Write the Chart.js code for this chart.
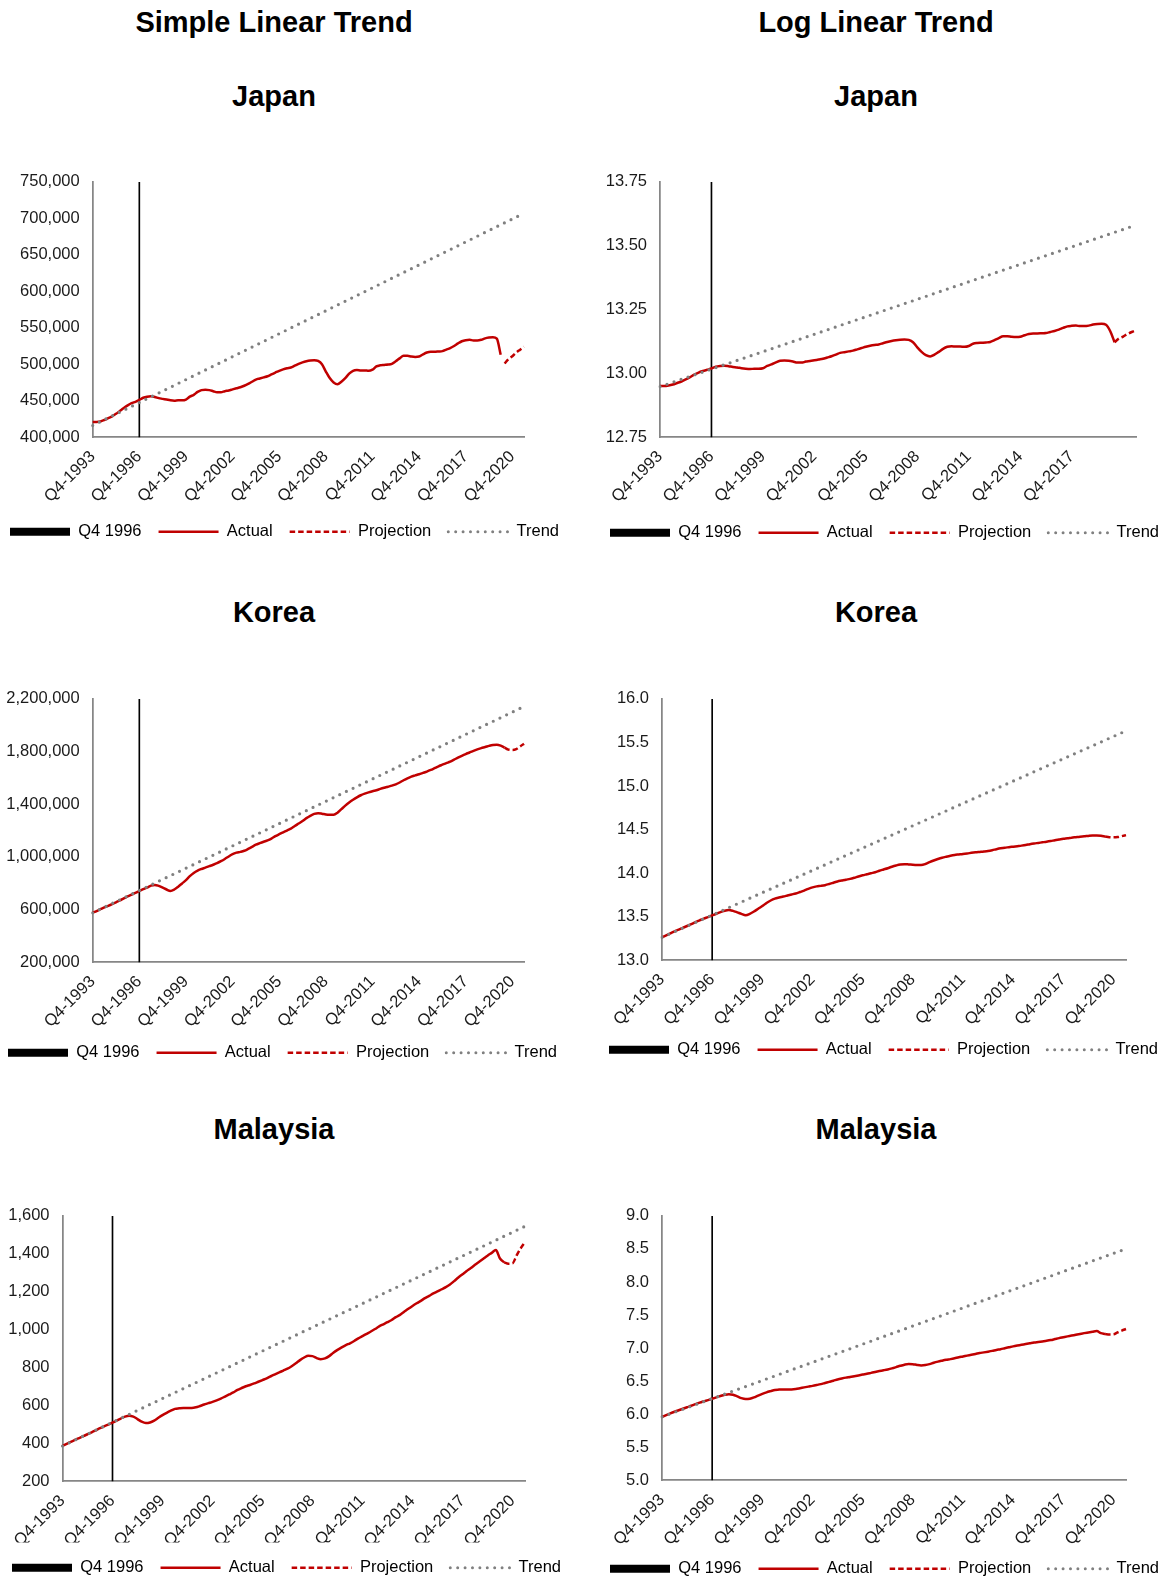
<!DOCTYPE html>
<html lang="en">
<head>
<meta charset="UTF-8">
<title>Simple vs Log Linear Trend</title>
<script src="https://cdn.jsdelivr.net/npm/chart.js"></script>
<style>
    html, body {
        margin: 0;
        padding: 0;
        background: #fff;
        width: 1167px;
        height: 1580px;
        overflow: hidden;
        position: relative;
        font-family: "Liberation Sans", Arial, sans-serif;
    }
    .head {
        position: absolute;
        font-weight: bold;
        font-size: 29px;
        line-height: 34.8px;
        text-align: center;
        color: #000;
        width: 548px;
    }
    canvas { position: absolute; }
</style>
</head>
<body>

<div class="head" style="left:0;top:4.8px">Simple Linear Trend</div>
<div class="head" style="left:602px;top:4.8px">Log Linear Trend</div>
<div class="head" style="left:0;top:79.3px">Japan</div>
<div class="head" style="left:602px;top:79.3px">Japan</div>
<div class="head" style="left:0;top:595.3px">Korea</div>
<div class="head" style="left:602px;top:595.3px">Korea</div>
<div class="head" style="left:0;top:1112.3px">Malaysia</div>
<div class="head" style="left:602px;top:1112.3px">Malaysia</div>

<script>
    // quarterly categories, Q4-1993 .. Q3-2021
    const quarters = [];
    for (let y = 1993, q = 4; quarters.length < 112;) {
        quarters.push('Q' + q + '-' + y);
        q++;
        if (q > 4) { q = 1; y++; }
    }
    const trendAt = ['Q4-1993', 'Q3-2021'];

    // Japan, levels
    const japanActual = [
        420700, 420800, 421500, 423500, 426000, 428500, 432000, 436000, 440000, 443500,
        446500, 448500, 451000, 454000, 455500, 456000, 455000, 453500, 452500, 451500,
        450500, 450000, 450500, 450500, 451500, 455500, 458000, 462000, 464500, 465000,
        464500, 463000, 461500, 461500, 463000, 464000, 465500, 467000, 468500, 470500,
        473000, 476000, 479000, 480500, 482000, 483500, 486000, 488500, 491000, 493000,
        494500, 495500, 498000, 500500, 502500, 504000, 505000, 505500, 504500, 500000,
        490000, 481000, 475000, 472500, 476000, 481000, 487000, 491000, 492000, 491500,
        491500, 491000, 492500, 497000, 498500, 499000, 499500, 500500, 504000, 508000,
        511500, 511500, 510500, 510000, 510500, 513500, 516000, 517000, 517000, 517500,
        518000, 520000, 522000, 525000, 528500, 531500, 533000, 533500, 532500, 532500,
        533500, 535500, 536500, 537000, 535000, 513000
    ];
    const japanProjStart = 'Q2-2020';
    const japanProj = [501000, 507000, 511000, 516000, 520000, 524000];
    const japanTrend = [416000, 707000];

    // Japan, logs
    const japanLogActual = [
        12.950, 12.950, 12.952, 12.956, 12.962, 12.968, 12.976, 12.985, 12.995, 13.003,
        13.009, 13.014, 13.019, 13.026, 13.029, 13.030, 13.028, 13.025, 13.023, 13.020,
        13.018, 13.017, 13.018, 13.018, 13.020, 13.029, 13.035, 13.043, 13.049, 13.050,
        13.049, 13.046, 13.042, 13.042, 13.046, 13.048, 13.051, 13.054, 13.057, 13.062,
        13.067, 13.073, 13.080, 13.083, 13.086, 13.089, 13.094, 13.099, 13.104, 13.108,
        13.111, 13.113, 13.118, 13.123, 13.127, 13.130, 13.132, 13.133, 13.131, 13.122,
        13.102, 13.084, 13.071, 13.066, 13.073, 13.084, 13.096, 13.104, 13.106, 13.105,
        13.105, 13.104, 13.107, 13.116, 13.119, 13.120, 13.121, 13.123, 13.130, 13.138,
        13.145, 13.145, 13.143, 13.142, 13.143, 13.149, 13.154, 13.156, 13.156, 13.157,
        13.158, 13.162, 13.166, 13.171, 13.178, 13.184, 13.186, 13.187, 13.185, 13.185,
        13.187, 13.191, 13.193, 13.194, 13.190, 13.165, 13.122
    ];
    const japanLogProjStart = 'Q2-2020';
    const japanLogProj = [13.122, 13.136, 13.144, 13.154, 13.162, 13.169];
    const japanLogTrend = [12.948, 13.581];

    // Korea, levels
    const koreaActual = [
        575000, 588000, 602000, 616000, 628000, 641000, 655000, 669000, 685000, 699000,
        713000, 726000, 740000, 754000, 767000, 781000, 787000, 779000, 766000, 752000,
        741000, 752000, 773000, 798000, 823000, 853000, 878000, 896000, 908000, 918000,
        929000, 940000, 952000, 967000, 984000, 1003000, 1021000, 1032000, 1038000, 1046000,
        1060000, 1076000, 1092000, 1104000, 1115000, 1125000, 1139000, 1157000, 1172000, 1186000,
        1200000, 1214000, 1234000, 1253000, 1272000, 1294000, 1312000, 1326000, 1332000, 1328000,
        1322000, 1320000, 1320000, 1335000, 1362000, 1389000, 1413000, 1434000, 1452000, 1468000,
        1480000, 1490000, 1499000, 1506000, 1516000, 1525000, 1533000, 1541000, 1551000, 1565000,
        1582000, 1597000, 1610000, 1619000, 1628000, 1638000, 1648000, 1660000, 1674000, 1688000,
        1700000, 1712000, 1723000, 1738000, 1754000, 1768000, 1781000, 1793000, 1805000, 1816000,
        1826000, 1834000, 1843000, 1850000, 1852000, 1845000, 1830000
    ];
    const koreaProjStart = 'Q2-2020';
    const koreaProj = [1830000, 1815000, 1812000, 1818000, 1838000, 1860000];
    const koreaTrend = [575000, 2142000];

    // Korea, logs
    const koreaLogActual = [
        13.262, 13.285, 13.308, 13.331, 13.350, 13.371, 13.392, 13.414, 13.437, 13.457,
        13.477, 13.495, 13.514, 13.533, 13.551, 13.568, 13.576, 13.566, 13.549, 13.531,
        13.516, 13.531, 13.558, 13.590, 13.621, 13.657, 13.685, 13.706, 13.719, 13.730,
        13.742, 13.754, 13.766, 13.782, 13.799, 13.819, 13.836, 13.847, 13.853, 13.861,
        13.874, 13.889, 13.904, 13.914, 13.924, 13.933, 13.946, 13.961, 13.974, 13.986,
        13.998, 14.009, 14.026, 14.041, 14.056, 14.073, 14.087, 14.098, 14.102, 14.099,
        14.095, 14.093, 14.093, 14.104, 14.125, 14.144, 14.161, 14.176, 14.188, 14.199,
        14.208, 14.214, 14.220, 14.225, 14.232, 14.238, 14.243, 14.248, 14.254, 14.263,
        14.274, 14.284, 14.292, 14.297, 14.303, 14.309, 14.315, 14.322, 14.331, 14.339,
        14.346, 14.353, 14.360, 14.368, 14.377, 14.385, 14.393, 14.399, 14.406, 14.412,
        14.418, 14.422, 14.427, 14.431, 14.432, 14.428, 14.420
    ];
    const koreaLogProjStart = 'Q2-2020';
    const koreaLogProj = [14.420, 14.412, 14.410, 14.413, 14.424, 14.436];
    const koreaLogTrend = [13.262, 15.633];

    // Malaysia, levels
    const malaysiaActual = [
        386, 397, 408, 418, 428, 438, 448, 458, 469, 480,
        490, 499, 509, 520, 531, 541, 546, 541, 528, 514,
        507, 510, 520, 535, 549, 561, 572, 582, 585, 587,
        587, 587, 590, 597, 605, 612, 619, 627, 636, 647,
        658, 669, 682, 692, 701, 708, 716, 725, 734, 743,
        754, 764, 774, 784, 794, 807, 822, 839, 853, 862,
        860, 850, 844, 848, 860, 878, 893, 906, 918, 928,
        940, 954, 966, 978, 990, 1003, 1017, 1028, 1039, 1051,
        1066, 1078, 1094, 1110, 1125, 1139, 1152, 1166, 1178, 1191,
        1202, 1213, 1224, 1238, 1256, 1275, 1292, 1309, 1325, 1342,
        1358, 1374, 1390, 1405, 1420, 1375, 1355
    ];
    const malaysiaProjStart = 'Q2-2020';
    const malaysiaProj = [1355, 1348, 1350, 1392, 1430, 1462];
    const malaysiaTrend = [386, 1545];

    // Malaysia, logs
    const malaysiaLogActual = [
        5.956, 5.984, 6.011, 6.036, 6.059, 6.082, 6.105, 6.127, 6.151, 6.174,
        6.194, 6.213, 6.233, 6.254, 6.275, 6.293, 6.303, 6.293, 6.269, 6.242,
        6.229, 6.234, 6.254, 6.282, 6.308, 6.330, 6.349, 6.367, 6.372, 6.375,
        6.375, 6.375, 6.380, 6.392, 6.405, 6.417, 6.428, 6.441, 6.455, 6.472,
        6.489, 6.506, 6.525, 6.540, 6.553, 6.562, 6.574, 6.586, 6.599, 6.611,
        6.625, 6.639, 6.652, 6.664, 6.677, 6.693, 6.712, 6.732, 6.749, 6.759,
        6.757, 6.745, 6.738, 6.743, 6.757, 6.778, 6.795, 6.809, 6.822, 6.833,
        6.846, 6.861, 6.873, 6.886, 6.898, 6.911, 6.925, 6.935, 6.946, 6.958,
        6.972, 6.983, 6.998, 7.012, 7.026, 7.038, 7.049, 7.061, 7.072, 7.083,
        7.092, 7.101, 7.110, 7.121, 7.136, 7.151, 7.164, 7.177, 7.189, 7.202,
        7.214, 7.226, 7.237, 7.248, 7.258, 7.226, 7.212
    ];
    const malaysiaLogProjStart = 'Q2-2020';
    const malaysiaLogProj = [7.212, 7.206, 7.208, 7.237, 7.265, 7.288];
    const malaysiaLogTrend = [5.960, 8.502];

    const markerAt = 'Q4-1996';
    const RED = '#C00000';
    const GREY = '#808080';
    const AXIS = '#868686';
    const TEXT = '#1a1a1a';
    const FONT = '"Liberation Sans", Arial, sans-serif';

    Chart.defaults.font.family = FONT;
    Chart.defaults.font.size = 16.5;
    Chart.defaults.color = TEXT;

    const thousands = v => Number(v).toLocaleString('en-US');

    function makeChart(o) {
        const cv = document.createElement('canvas');
        const padTop = 20;
        const legendH = 43.5;
        const xh = o.legendY - 25.25 - o.plot.b;
        const h = Math.round(padTop + (o.plot.b - o.plot.t) + xh + legendH);
        const w = 600;
        cv.width = w;
        cv.height = h;
        cv.style.left = o.cl + 'px';
        cv.style.top = (o.plot.t - padTop) + 'px';
        cv.style.width = w + 'px';
        cv.style.height = h + 'px';
        document.body.appendChild(cv);

        const hide = o.hide || [];
        const start = quarters.indexOf(o.projStart);

        new Chart(cv.getContext('2d'), {
            type: 'line',
            data: {
                labels: quarters,
                datasets: [{
                    label: 'Trend',
                    data: o.trend.map((v, k) => ({x: trendAt[k], y: v})),
                    borderColor: GREY,
                    borderWidth: 3.2,
                    borderDash: [0, 7.4],
                    borderCapStyle: 'round',
                    pointRadius: 0,
                    yAxisID: 'y'
                }, {
                    label: 'Projection',
                    data: o.proj.map((v, k) => ({x: quarters[start + k], y: v})),
                    borderColor: RED,
                    borderWidth: 2.5,
                    borderDash: [5.5, 3],
                    pointRadius: 0,
                    cubicInterpolationMode: 'monotone',
                    yAxisID: 'y'
                }, {
                    label: 'Actual',
                    data: o.actual,
                    borderColor: RED,
                    borderWidth: 2.5,
                    pointRadius: 0,
                    cubicInterpolationMode: 'monotone',
                    yAxisID: 'y'
                }, {
                    type: 'bar',
                    label: 'Q4 1996',
                    data: [{x: markerAt, y: o.y.max}],
                    backgroundColor: '#000',
                    barThickness: 1,
                    yAxisID: 'y'
                }]
            },
            options: {
                responsive: false,
                animation: false,
                devicePixelRatio: 1,
                events: [],
                layout: { padding: { top: padTop, left: 0, right: 0, bottom: 0 } },
                scales: {
                    x: {
                        type: 'category',
                        offset: false,
                        grid: { display: false, drawTicks: false },
                        border: { display: true, color: AXIS, width: 1.75 },
                        ticks: {
                            autoSkip: false,
                            maxRotation: 45,
                            minRotation: 45,
                            padding: 10,
                            color: TEXT,
                            callback: function (v, i) {
                                const lab = this.getLabelForValue(v);
                                return (i % 12 === 0 && !hide.includes(lab)) ? lab : '';
                            }
                        },
                        afterFit: s => { s.height = xh; }
                    },
                    y: {
                        type: 'linear',
                        position: 'left',
                        min: o.y.min,
                        max: o.y.max,
                        grid: { display: false, drawTicks: false },
                        border: { display: true, color: AXIS, width: 1.75 },
                        ticks: {
                            stepSize: o.y.step,
                            padding: 13,
                            color: TEXT,
                            callback: o.y.fmt
                        },
                        afterFit: s => { s.width = o.plot.l - o.cl; }
                    },
                    yR: {
                        type: 'linear',
                        position: 'right',
                        grid: { display: false, drawTicks: false },
                        border: { display: false },
                        ticks: { display: false },
                        afterFit: s => { s.width = o.cl + w - o.plot.r; }
                    }
                },
                plugins: {
                    tooltip: { enabled: false },
                    title: { display: false },
                    legend: {
                        position: 'bottom',
                        align: 'start',
                        labels: {
                            usePointStyle: true,
                            pointStyleWidth: 60,
                            padding: 17,
                            color: TEXT,
                            font: { size: 16.5 },
                            generateLabels: () => [
                                {text: 'Q4 1996', strokeStyle: '#000', fillStyle: '#000', lineWidth: 8,
                                    pointStyle: 'line', rotation: 0, lineCap: 'butt', hidden: false},
                                {text: 'Actual', strokeStyle: RED, fillStyle: RED, lineWidth: 2.5,
                                    pointStyle: 'line', rotation: 0, hidden: false},
                                {text: 'Projection', strokeStyle: RED, fillStyle: RED, lineWidth: 2.5,
                                    lineDash: [5.5, 3], pointStyle: 'line', rotation: 0, hidden: false},
                                {text: 'Trend', strokeStyle: GREY, fillStyle: GREY, lineWidth: 3,
                                    lineDash: [0, 7.4], lineCap: 'round', pointStyle: 'line', rotation: 0, hidden: false}
                            ]
                        }
                    }
                }
            }
        });
    }

    makeChart({
        cl: -7, plot: {l: 92.7, r: 524, t: 179.4, b: 437.4}, legendY: 532,
        y: {min: 400000, max: 750000, step: 50000, fmt: thousands},
        actual: japanActual, proj: japanProj, projStart: japanProjStart, trend: japanTrend
    });
    makeChart({
        cl: 593, plot: {l: 660, r: 1136, t: 179.4, b: 437.4}, legendY: 533,
        y: {min: 12.75, max: 13.75, step: 0.25, fmt: v => v.toFixed(2)},
        actual: japanLogActual, proj: japanLogProj, projStart: japanLogProjStart, trend: japanLogTrend,
        hide: ['Q4-2020']
    });
    makeChart({
        cl: -9, plot: {l: 92.7, r: 524, t: 696.4, b: 962.4}, legendY: 1053,
        y: {min: 200000, max: 2200000, step: 400000, fmt: thousands},
        actual: koreaActual, proj: koreaProj, projStart: koreaProjStart, trend: koreaTrend
    });
    makeChart({
        cl: 592, plot: {l: 662, r: 1126, t: 696.4, b: 960.4}, legendY: 1050,
        y: {min: 13, max: 16, step: 0.5, fmt: v => v.toFixed(1)},
        actual: koreaLogActual, proj: koreaLogProj, projStart: koreaLogProjStart, trend: koreaLogTrend
    });
    makeChart({
        cl: -5, plot: {l: 62.5, r: 525, t: 1213.4, b: 1481.5}, legendY: 1568,
        y: {min: 200, max: 1600, step: 200, fmt: thousands},
        actual: malaysiaActual, proj: malaysiaProj, projStart: malaysiaProjStart, trend: malaysiaTrend
    });
    makeChart({
        cl: 593, plot: {l: 662, r: 1126, t: 1213.4, b: 1480.5}, legendY: 1569,
        y: {min: 5, max: 9, step: 0.5, fmt: v => v.toFixed(1)},
        actual: malaysiaLogActual, proj: malaysiaLogProj, projStart: malaysiaLogProjStart, trend: malaysiaLogTrend
    });
</script>

</body>
</html>
